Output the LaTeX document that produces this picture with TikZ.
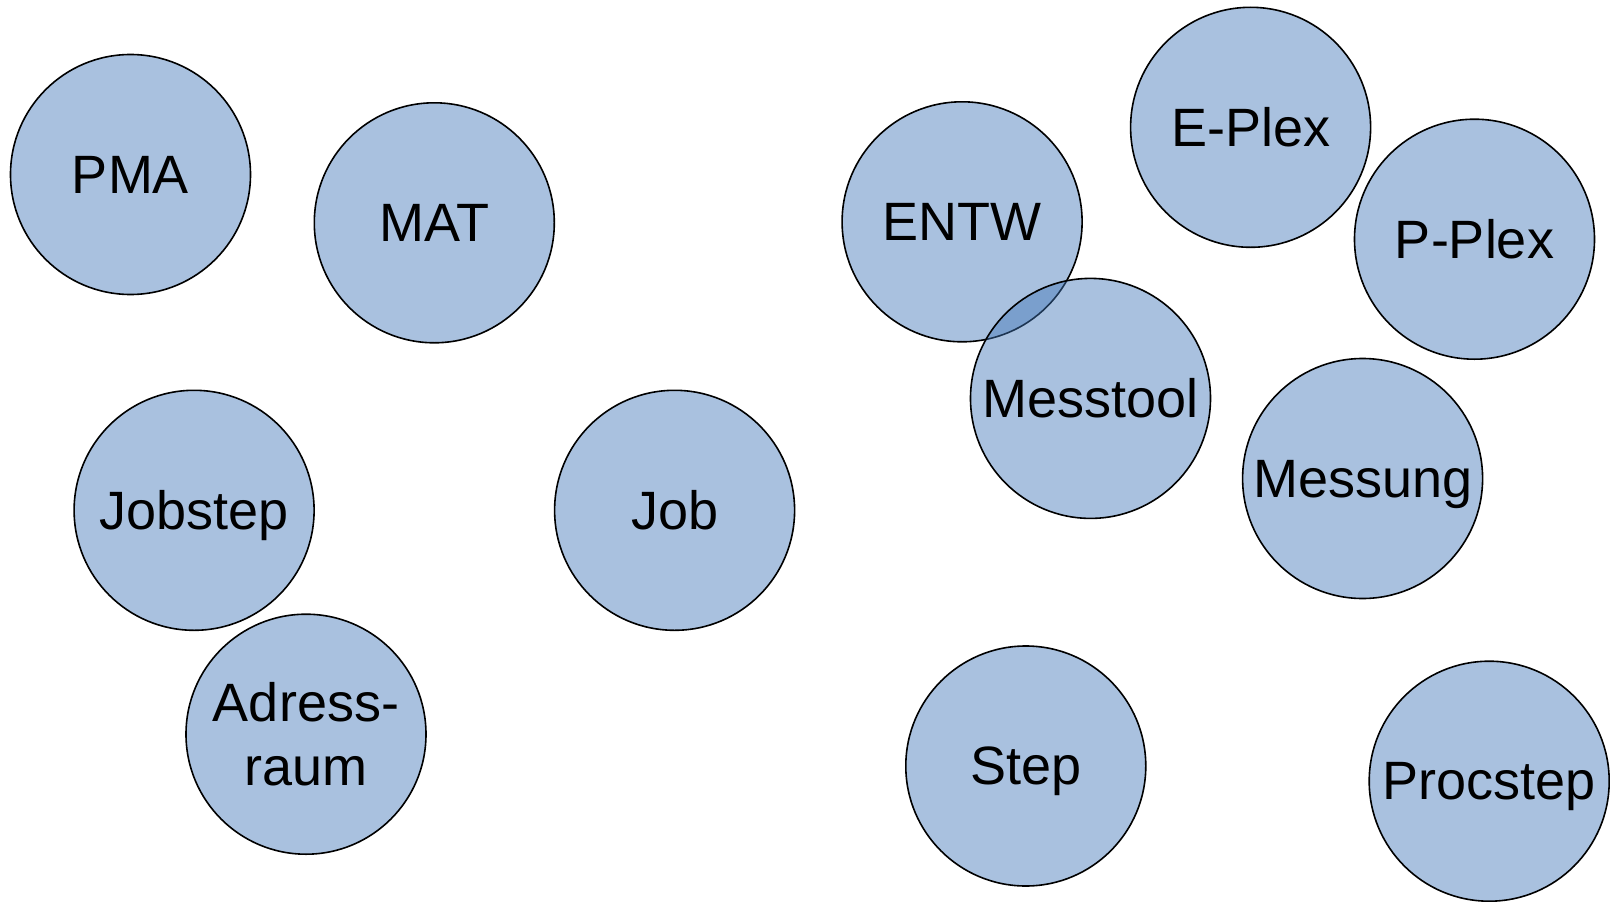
\documentclass[tikz,border=0pt]{standalone}
\usepackage{fontspec}
\setmainfont{Liberation Sans}
\definecolor{bubble}{RGB}{65,118,184}
\tikzset{
  bub/.style={circle, draw=black, line width=1.6pt, fill=bubble, fill opacity=0.45, text opacity=1,
    minimum size=240pt, inner sep=0pt, text depth=0pt, align=center,
    font=\fontsize{54}{64}\selectfont}
}
\begin{document}
\begin{tikzpicture}[x=1pt,y=-1pt]
\useasboundingbox (0,0) rectangle (1610,902);
\node[bub] (pma) at (130.5,174.5) {PMA};
\node[bub] (mat) at (434.3,222.8) {MAT};
\node[bub] (entw) at (962.1,221.8) {ENTW};
\node[bub] (eplex) at (1250.6,127.3) {E-Plex};
\node[bub] (pplex) at (1474.5,239.2) {P-Plex};
\node[bub] (messtool) at (1090.5,398.4) {Messtool};
\node[bub] (messung) at (1362.6,478.5) {Messung};
\node[bub] (jobstep) at (194.1,510.3) {Jobstep};
\node[bub] (job) at (674.6,510.3) {Job};
\node[bub] (adr) at (306,734.2) {Adress-\\raum};
\node[bub] (step) at (1025.8,766) {Step};
\node[bub] (procstep) at (1489.2,781.2) {Procstep};
\end{tikzpicture}
\end{document}
